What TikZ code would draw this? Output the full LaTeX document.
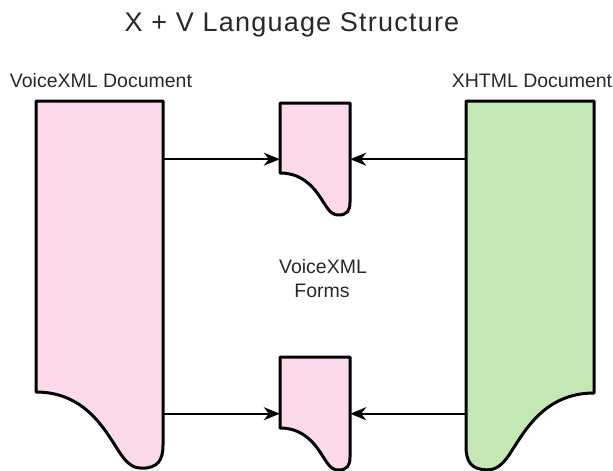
\documentclass[tikz,border=0pt]{standalone}
\usepackage{fontspec}
\setmainfont{Liberation Sans}
\usetikzlibrary{arrows.meta}

\definecolor{voicepink}{RGB}{252,217,235}
\definecolor{xhtmlgreen}{RGB}{197,230,181}
\definecolor{labelgray}{RGB}{40,40,40}

\tikzset{
  docline/.style={draw=black, line width=3pt, line join=round},
  link/.style={draw=black, line width=1.8pt,
    -{Stealth[length=16pt, width=13pt, inset=5pt]}},
  caption/.style={text=labelgray, inner sep=0pt, anchor=base,
    font=\fontsize{19.5}{23}\selectfont},
  titletext/.style={text=labelgray, inner sep=0pt, anchor=base,
    font=\fontsize{27}{32}\selectfont\addfontfeature{LetterSpace=4.5}},
}

% Document sheet with a curled lower edge.
% #1 name, #2 fill, #3 centre x, #4 top y, #5 width, #6 body height,
% #7 +1 = tail on the right, -1 = tail on the left
\newcommand\docsheet[7]{%
  \pgfmathsetmacro\bodyu{#6/#5}%
  \pgfmathsetmacro\sheeth{#6+0.6*#5}%
  \begin{scope}[shift={(#3,#4)}, x={(#7*#5pt,0)}, y={(0,-#5pt)}]
    \draw[docline, fill=#2]
      (-0.5,0) -- (0.5,0) -- (0.5,\bodyu+0.417)
      .. controls (0.5,\bodyu+0.535) and (0.46,\bodyu+0.6) .. (0.335,\bodyu+0.6)
      .. controls (0.28,\bodyu+0.6) and (0.224,\bodyu+0.583) .. (0.146,\bodyu+0.457)
      .. controls (0.043,\bodyu+0.3) and (-0.114,\bodyu) .. (-0.5,\bodyu)
      -- cycle;
    \node[inner sep=0pt, minimum width=#5pt, minimum height=\sheeth pt,
      anchor=north] (#1) at (0,0) {};
  \end{scope}%
}

\begin{document}
\begin{tikzpicture}[x=1pt, y=-1pt]
  \useasboundingbox (0,0) rectangle (613,471);

  % sheets
  \docsheet{vdoc}{voicepink}{99.5}{101}{127}{291}{1}
  \docsheet{xdoc}{xhtmlgreen}{530}{101}{128}{292}{-1}
  \docsheet{formA}{voicepink}{315}{103}{70}{70}{1}
  \docsheet{formB}{voicepink}{315}{357}{70}{71}{1}

  % texts
  \node[titletext] (title) at (292,31) {X + V Language Structure};
  \node[caption] (vlabel) at (101,87) {VoiceXML Document};
  \node[caption] (xlabel) at (532,87) {XHTML Document};
  \node[caption] (flabel1) at (323,273) {VoiceXML};
  \node[caption] (flabel2) at (322,297) {Forms};

  % connectors
  \draw[link] (vdoc.east |- formA.west) -- (formA.west);
  \draw[link] (xdoc.west |- formA.east) -- (formA.east);
  \draw[link] (vdoc.east |- formB.west) -- (formB.west);
  \draw[link] (xdoc.west |- formB.east) -- (formB.east);
\end{tikzpicture}
\end{document}
